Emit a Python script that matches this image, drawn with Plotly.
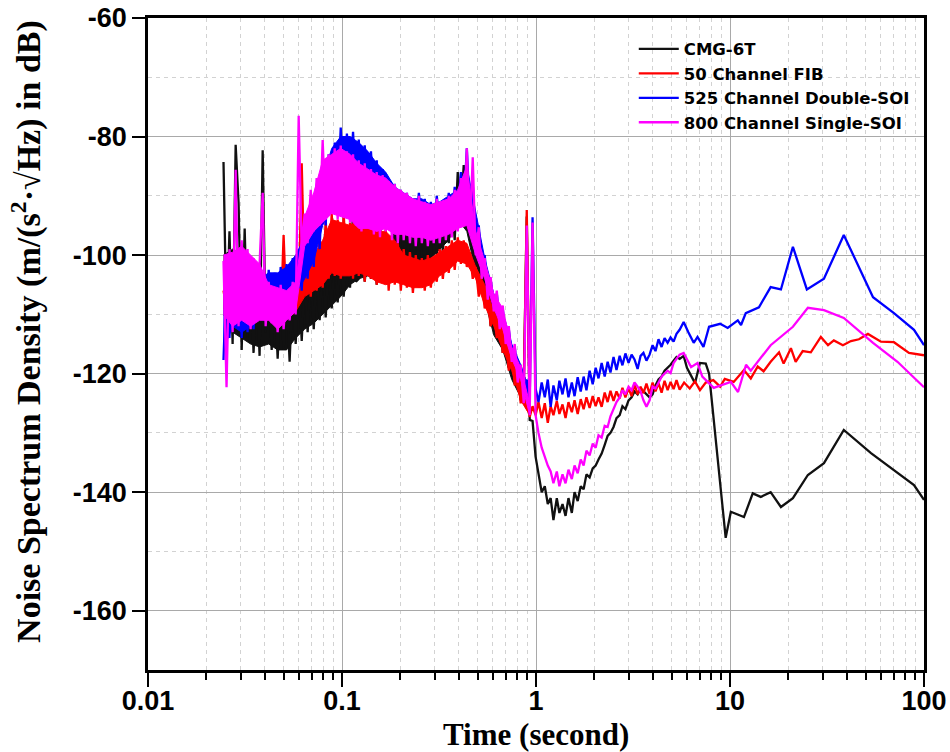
import plotly.graph_objects as go

# ---------------------------------------------------------------------------
# Noise spectrum density of four seismometers (dB re m/(s^2*sqrt(Hz)))
# ---------------------------------------------------------------------------

# shared time grid for the dense low-period part of the spectra (s)
t_dense = [
    0.0245, 0.0254, 0.0263, 0.0273, 0.0283, 0.0293, 0.0304, 0.0315, 0.0326, 0.0338,
    0.035, 0.0363, 0.0376, 0.039, 0.0404, 0.0419, 0.0434, 0.045, 0.0466, 0.0483,
    0.05, 0.0518, 0.0537, 0.0557, 0.0577, 0.0598, 0.062, 0.0642, 0.0665, 0.069,
    0.0715, 0.074, 0.0767, 0.0795, 0.0824, 0.0854, 0.0885, 0.0917, 0.095, 0.0985,
    0.102, 0.106, 0.11, 0.114, 0.118, 0.122, 0.126, 0.131, 0.136, 0.141,
    0.146, 0.151, 0.157, 0.162, 0.168, 0.174, 0.181, 0.187, 0.194, 0.201,
    0.208, 0.216, 0.224, 0.232, 0.24, 0.249, 0.258, 0.267, 0.277, 0.287,
    0.297, 0.308, 0.319, 0.331, 0.343, 0.355, 0.368, 0.381, 0.395, 0.41,
    0.424, 0.44, 0.456, 0.472, 0.489, 0.507, 0.525, 0.544, 0.564, 0.584,
    0.606, 0.628, 0.65, 0.674, 0.698, 0.724, 0.75, 0.777, 0.805, 0.834,
    0.865, 0.896, 0.928,
]

# coarser grid for the upper / lower edges of the noise bands (s)
t_env = [
    0.0245, 0.0273, 0.0304, 0.0338, 0.0376, 0.0419, 0.0466, 0.0518, 0.0577, 0.0642,
    0.0715, 0.0795, 0.0885, 0.0985, 0.11, 0.122, 0.136, 0.151, 0.168, 0.187,
    0.208, 0.232, 0.258, 0.287, 0.319, 0.355, 0.395, 0.44, 0.489, 0.544,
    0.606, 0.674, 0.75, 0.834, 0.928,
]

# shared time grid for the mid-period part (s)
t_mid = [
    0.96, 0.995, 1.03, 1.07, 1.11, 1.15, 1.19, 1.23, 1.28, 1.32,
    1.37, 1.42, 1.47, 1.53, 1.58, 1.64, 1.7, 1.76, 1.82, 1.89,
    1.96, 2.03, 2.1, 2.18, 2.26, 2.34, 2.42, 2.51, 2.6, 2.7,
    2.79, 2.89, 3.0, 3.11, 3.22, 3.34, 3.46, 3.58, 3.71, 3.85,
    3.99, 4.13, 4.28, 4.44, 4.6, 4.77, 4.94, 5.12, 5.3, 5.5,
]

# ---- CMG-6T ----------------------------------------------------------------
cmg_dense = [
    -84.3, -112, -96, -115, -81.4, -91.2, -116, -95.5, -114, -103,
    -116.5, -104, -117, -82.3, -113, -105, -116, -106, -117.5, -105.5,
    -116, -106.5, -118, -105, -115, -104.5, -114.5, -104, -113, -103,
    -112.5, -102.5, -111, -101.5, -110.5, -101, -109, -100.5, -108, -100,
    -107, -99.5, -105.5, -92.5, -104.5, -104, -98.5, -104.5, -98, -104,
    -97.5, -105, -94, -104.5, -98, -105, -97, -104, -96.5, -103.5,
    -95, -103, -94.5, -102.5, -94, -102, -93.5, -101.5, -94, -101,
    -93, -100, -92.5, -99.5, -91.5, -98, -90, -97.5, -86, -93,
    -84.8, -95, -89, -99, -96, -104, -101, -108, -106, -112,
    -108.5, -114, -111, -116.5, -113, -119, -115.5, -121.5, -118.5, -124.5,
    -121.5, -93.5, -127.8,
]
cmg_hi = [
    -100, -99, -100, -104, -105, -106, -106.5, -107, -105.5, -104.5,
    -103.5, -102, -101.5, -100.5, -100, -99, -98.5, -98, -98.5, -95.5,
    -95, -94.5, -94.5, -94, -93.5, -92, -88, -90, -97, -102,
    -109, -112, -116, -119, -122.5,
]
cmg_lo = [
    -110, -113, -114, -115, -115.5, -115, -116, -116, -114, -112.5,
    -111.5, -110, -108.5, -107, -105, -104, -103.5, -104, -104, -103.5,
    -102.5, -102, -101, -100.5, -99, -97.5, -94, -96, -103, -107.5,
    -113.5, -116, -121, -124, -127,
]
cmg_mid = [
    -128, -134, -137, -140, -139, -142, -141, -144.7, -141, -143.5,
    -142, -144, -141, -143.5, -140, -141.5, -139, -139.5, -137, -137.5,
    -136, -135.5, -134.5, -133.5, -132, -130.5, -130, -129, -127.5, -127,
    -125.5, -126, -124.5, -124, -123, -123.5, -122.5, -123, -123.5, -124,
    -123.5, -122, -121, -120.5, -119.5, -119, -118.5, -117.8, -117.2, -117.5,
]
cmg_tail_t = [5.77, 6.0, 6.6, 7.0, 7.5, 7.8, 9.5, 10.1, 11.8, 13.1, 14.4, 16.2,
              18.3, 21.1, 25.2, 30.5, 38.6, 53.3, 88.8, 100]
cmg_tail_y = [-117, -119, -121.6, -118.2, -118.3, -120, -147.7, -143.3, -144.2,
              -140.2, -140.8, -140, -142.5, -141, -137.1, -135.1, -129.5, -133.4,
              -138.8, -141.3]

# ---- 50 Channel FIB ----------------------------------------------------------
fib_dense = [
    -106, -109, -104, -110, -105, -109, -104.5, -110, -105, -109.5,
    -105.5, -110, -106, -110.5, -106, -111, -106.5, -111, -107, -111.5,
    -96.6, -110, -106, -110, -105, -108, -84.5, -106, -100, -107,
    -99, -106, -97, -105.5, -94, -104, -93, -103.5, -94, -104,
    -93, -103, -94.5, -104, -93.5, -103.5, -95, -104.5, -94, -104,
    -95.5, -105, -96, -104.5, -95.5, -106, -97, -105, -98, -106,
    -99, -105.5, -99.5, -106.4, -100, -105.5, -100.5, -106, -100, -105.5,
    -100.5, -104.5, -99, -104, -98.5, -103, -97.5, -102.5, -97, -101.5,
    -97.5, -102, -99.5, -104, -102, -107, -104.5, -109, -107, -112,
    -109.5, -114, -111.5, -116.5, -114, -119.5, -116, -122, -119.5, -125,
    -122.8, -92.4, -127.3,
]
fib_hi = [
    -105, -105, -105, -105.5, -106, -106.5, -107, -106.5, -105.5, -103,
    -100, -97.5, -94, -94.5, -95, -94, -94.5, -96, -96, -97.5,
    -100, -100.5, -101, -100.5, -99.5, -98.5, -97.5, -98, -102, -105,
    -109.5, -112, -116.5, -120, -124.5,
]
fib_lo = [
    -109, -109.5, -109.5, -109, -109.5, -110.5, -111, -110, -109.5, -107,
    -106, -105, -103, -103.5, -103.5, -103, -103.5, -104.5, -105, -104.5,
    -105, -105.5, -105.5, -105, -103.5, -102.5, -101, -101.5, -104, -108.5,
    -112, -116, -119.5, -124.5, -127,
]
fib_mid = [
    -125.5, -127, -124.8, -127.5, -125, -128.3, -125.5, -127, -124.6, -126.8,
    -125.2, -127.5, -124.8, -126.5, -124.5, -126.8, -124.3, -126, -124, -125.8,
    -123.8, -125.5, -124, -125.6, -123.2, -124.8, -122.9, -124.6, -123, -124.2,
    -122.4, -124, -122.5, -123.8, -121.8, -123.5, -122.2, -123.3, -121.7, -123.4,
    -121.5, -123, -121.6, -123.2, -121.2, -122.8, -121.4, -122.6, -121.1, -122.7,
]
fib_tail_t = [5.8, 6.2, 6.6, 7.0, 7.5, 8.2, 8.9, 9.4, 10.45, 11.8, 12.8, 13.9,
              14.9, 16.2, 17.9, 18.9, 20.6, 21.8, 23.7, 26.1, 29.4, 32, 34.3,
              38.2, 42, 46.2, 51.4, 60, 70, 83.7, 100]
fib_tail_y = [-121.5, -122.5, -121.3, -122.8, -121.5, -121.1, -122.2, -120.9,
              -121.4, -119.4, -120.8, -118.8, -119.6, -118, -116.4, -118.3,
              -115.7, -118, -116.2, -116.4, -113.8, -115.2, -114.4, -115.2,
              -114.5, -114.2, -113.3, -114.6, -114.7, -116.5, -116.9]

# ---- 525 Channel Double-SOI -------------------------------------------------
dsoi_dense = [
    -117.7, -103, -114, -100, -112, -101, -114, -102, -113, -103,
    -112.5, -104, -111, -103, -110.5, -102.5, -109, -103, -110, -102,
    -108.5, -101.5, -108, -100.5, -107, -99, -106, -96, -104, -93,
    -102, -90, -99, -86, -95, -83, -92, -81, -90, -78.5,
    -89, -79.5, -88, -79.2, -89, -80.5, -90, -81.5, -90.5, -82.5,
    -91, -84, -92, -85.5, -93, -87, -93.5, -88, -94, -89,
    -94.5, -89.5, -95, -90.5, -95.5, -89.5, -95, -90.5, -96, -91,
    -95.5, -90, -95, -91, -94.5, -89.5, -94, -88.5, -93, -86,
    -92, -82, -93, -88, -97, -95, -102, -100, -106, -104,
    -109, -106.5, -111, -109, -114, -112.5, -116.5, -115.5, -120, -118.5,
    -123.5, -121, -124.5,
]
dsoi_hi = [
    -104, -101, -102, -103.5, -104, -103, -103, -102, -100, -97,
    -93, -87, -82, -80, -80, -81, -82.5, -84.5, -86, -88.5,
    -89.5, -90.5, -90.5, -91.5, -91, -90, -89, -85, -93, -100.5,
    -106.5, -109.5, -115, -118.5, -123,
]
dsoi_lo = [
    -116, -112, -113, -112, -110.5, -109, -109.5, -108, -106.5, -104,
    -101, -95, -91.5, -89, -88, -89.5, -90, -91.5, -92.5, -93.5,
    -94, -95, -95, -95.5, -95, -94, -93, -92, -96.5, -102,
    -109, -111, -116.5, -120, -124.5,
]
dsoi_mid = [
    -93.6, -122.5, -124.8, -121.5, -124, -121, -125.6, -122, -124.5, -121.2,
    -123.5, -120.8, -124, -121.5, -123.8, -120.6, -123, -120.5, -122.8, -119.5,
    -121.8, -119, -120.8, -118.2, -120.5, -118, -119.8, -117.2, -119.4, -117,
    -118.6, -116.6, -118.2, -116.8, -117.6, -119.2, -117, -116.5, -117.8, -116.8,
    -115.2, -116.2, -114.2, -115.5, -114, -114.8, -113.9, -114.6, -113.3, -112.6,
]
dsoi_tail_t = [5.77, 6.1, 6.5, 6.8, 7.3, 7.8, 8.9, 9.73, 10.97, 11.4, 12.06,
               14.1, 16.2, 18.3, 21.1, 24.9, 30.5, 38.6, 54.6, 70, 88.8, 100]
dsoi_tail_y = [-111.3, -113, -114.8, -113.8, -115.5, -112.1, -111.6, -112.3,
               -111, -111.8, -109.8, -108.8, -105.4, -105.8, -98.6, -105.8,
               -104, -96.6, -107.1, -109.8, -112.6, -115.2]

# ---- 800 Channel Single-SOI -------------------------------------------------
ssoi_dense = [
    -101, -122.3, -99, -113, -85.6, -112, -97.5, -111, -99, -112.5,
    -100.5, -111, -101.5, -89.5, -112, -104.5, -111.5, -105.5, -113, -105,
    -112.5, -106, -111, -104.5, -110, -76.5, -99, -93, -98, -89,
    -96, -87, -95, -80.6, -94, -83, -93, -82, -94, -81.5,
    -93, -82.5, -94.5, -83, -95, -84, -96, -84.5, -95.5, -85.5,
    -96.5, -86, -97, -86.5, -96, -87.5, -97.5, -88, -98, -89,
    -97.5, -89.5, -98, -90.5, -98.5, -90, -98, -91, -98.5, -91.5,
    -98, -90.5, -98, -91, -97.5, -90, -97, -89, -96, -87,
    -95, -82, -96, -83.5, -100, -95.3, -104, -100.5, -107.5, -103.7,
    -109.5, -106, -112.5, -108.5, -115, -112, -118, -115, -121.5, -118.5,
    -125, -95, -127,
]
ssoi_hi = [
    -100, -99.5, -98.5, -100, -101.5, -105, -105.5, -106, -104.5, -93.5,
    -89.5, -84, -83, -82, -83, -84.5, -85.5, -86.5, -87, -88.5,
    -89.5, -90.5, -91, -91.5, -91, -90.5, -89, -85, -96, -101,
    -106.5, -109, -115.5, -119, -125,
]
ssoi_lo = [
    -110, -112, -111, -112, -111, -111, -112.5, -111, -109.5, -98.5,
    -96, -94.5, -93, -93.5, -94, -95.5, -95.5, -96, -95.5, -96.5,
    -96.5, -97, -97, -97.5, -97, -96.5, -95.5, -95, -100, -104,
    -109, -112.5, -117.5, -121, -127,
]
ssoi_mid = [
    -94.5, -127, -130, -132.5, -134, -135.5, -136.5, -138.5, -136.5, -139,
    -137, -138.5, -136.2, -137.8, -135.5, -136.8, -134.5, -135.5, -133, -133.8,
    -131.8, -132.5, -130.4, -130.8, -128.8, -129, -127.2, -126, -124.8, -124,
    -122.8, -123.5, -122.2, -122.8, -121.5, -122.2, -123, -124.5, -125.6, -124.5,
    -122.2, -122.5, -121.5, -120.5, -120, -119.5, -119.9, -118.2, -117.5, -116.8,
]
ssoi_tail_t = [5.77, 6.3, 6.8, 7.2, 8.24, 10.1, 11.0, 12.1, 12.8, 16.2, 21.1,
               25.2, 30.5, 38.6, 54.6, 73, 100]
ssoi_tail_y = [-116.5, -118.9, -118.2, -120.5, -122.4, -121.4, -123.1, -118.5,
               -119.5, -115.2, -112.1, -108.9, -109.3, -110.6, -114.8, -118,
               -122.3]

series_names = ["CMG-6T", "50 Channel FIB", "525 Channel Double-SOI",
                "800 Channel Single-SOI"]
series_colors = ["#111111", "#ff0000", "#0000ff", "#ff00ff"]

x_tickvals = [0.01, 0.1, 1, 10, 100]
x_ticktext = ["0.01", "0.1", "1", "10", "100"]
y_tickvals = [-160, -140, -120, -100, -80, -60]
y_ticktext = ["-160", "-140", "-120", "-100", "-80", "-60"]

x_title = "Time (second)"
y_title = "Noise Spectrum Density (m/(s<sup>2</sup>·√Hz) in dB)"

series_t = [
    t_dense + t_mid + cmg_tail_t,
    t_dense + t_mid + fib_tail_t,
    t_dense + t_mid + dsoi_tail_t,
    t_dense + t_mid + ssoi_tail_t,
]
series_y = [
    cmg_dense + cmg_mid + cmg_tail_y,
    fib_dense + fib_mid + fib_tail_y,
    dsoi_dense + dsoi_mid + dsoi_tail_y,
    ssoi_dense + ssoi_mid + ssoi_tail_y,
]
series_hi = [cmg_hi, fib_hi, dsoi_hi, ssoi_hi]
series_lo = [cmg_lo, fib_lo, dsoi_lo, ssoi_lo]

fig = go.Figure()
for name, color, t, y, hi, lo in zip(series_names, series_colors, series_t,
                                     series_y, series_hi, series_lo):
    # solid body of the noise band between its upper and lower edges
    fig.add_trace(go.Scatter(
        x=t_env + t_env[::-1], y=hi + lo[::-1],
        mode="lines", fill="toself", fillcolor=color,
        line=dict(color=color, width=1),
        showlegend=False, hoverinfo="skip",
    ))
    fig.add_trace(go.Scatter(
        x=t, y=y, name=name, mode="lines",
        line=dict(color=color, width=2.3),
    ))

tick_font = dict(family="Liberation Sans", size=27, color="black", weight="bold")
title_font = dict(family="Liberation Serif", size=34, color="black", weight="bold")
xtitle_font = dict(family="Liberation Serif", size=31, color="black", weight="bold")

fig.update_xaxes(
    type="log", range=[-2, 2], automargin=False,
    tickmode="array", tickvals=x_tickvals, ticktext=x_ticktext,
    ticks="outside", ticklen=14, tickwidth=2, tickcolor="black",
    ticklabelstandoff=-9,
    showline=True, linecolor="black", linewidth=2.5, mirror=True,
    showgrid=True, gridcolor="#a9a9a9", gridwidth=1,
    minor=dict(dtick="D1", ticks="outside", ticklen=7, tickwidth=1.5,
               tickcolor="black", showgrid=True, gridcolor="#d2d2d2",
               gridwidth=1, griddash="4px,4px"),
    tickfont=tick_font,
    zeroline=False,
)
fig.update_yaxes(
    range=[-170, -60], automargin=False,
    tickmode="array", tickvals=y_tickvals, ticktext=y_ticktext,
    ticks="outside", ticklen=13, tickwidth=2, tickcolor="black",
    showline=True, linecolor="black", linewidth=2.5, mirror=True,
    showgrid=True, gridcolor="#a9a9a9", gridwidth=1,
    minor=dict(dtick=10, tick0=-170, ticks="", showgrid=True,
               gridcolor="#d2d2d2", gridwidth=1, griddash="4px,4px"),
    tickfont=tick_font,
    zeroline=False,
)

# axis titles
fig.add_annotation(text=x_title, xref="paper", yref="paper",
                   x=0.5, y=-0.0982, xanchor="center", yanchor="middle",
                   showarrow=False, font=xtitle_font, borderpad=0)
fig.add_annotation(text=y_title, xref="paper", yref="paper",
                   x=-0.156, y=0.52, xanchor="center", yanchor="middle",
                   textangle=-90, showarrow=False, font=title_font)

# white panel behind the legend hides the grid in that corner
fig.add_shape(type="rect", xref="paper", yref="paper",
              x0=0.589, x1=1.0, y0=0.81, y1=1.0,
              fillcolor="white", line=dict(width=0), layer="between")

fig.update_layout(
    width=950, height=752,
    margin=dict(l=148, r=26, t=18, b=82),
    paper_bgcolor="white", plot_bgcolor="white",
    showlegend=True,
    legend=dict(x=0.626, y=0.979, xanchor="left", yanchor="top",
                bgcolor="rgba(0,0,0,0)", borderwidth=0,
                font=dict(family="DejaVu Sans", size=16.5, color="black",
                          weight="bold"),
                itemwidth=40, tracegroupgap=0),
)

fig.write_html("out.html")
